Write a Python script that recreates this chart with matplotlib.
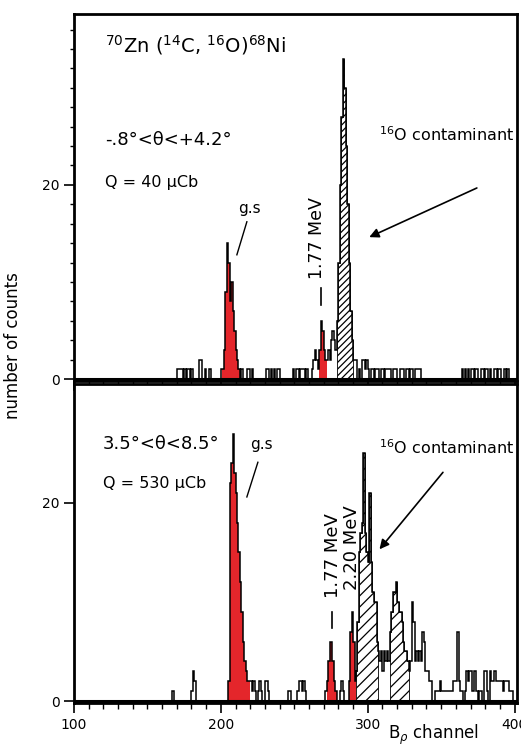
import numpy as np
import matplotlib
matplotlib.use("Agg")
import matplotlib.pyplot as plt
from matplotlib.ticker import MultipleLocator

# Spectre du haut : -0.8° < theta < 4.2°, Q = 40 uCb
top_ch = [170, 171, 172, 173, 175, 177, 178, 180, 185, 186, 189, 192,
          200, 201, 202, 203, 204, 205, 206, 207, 208, 209, 210, 211, 212,
          214, 218, 219, 221, 231, 232, 234, 236, 238, 239,
          249, 251, 252, 254, 255, 256, 258, 262, 263, 264, 265, 266,
          267, 268, 269, 270, 271, 272, 273, 274, 275, 276, 277, 278,
          279, 280, 281, 282, 283, 284, 285, 286, 287, 288, 289,
          290, 291, 292, 294, 296, 297, 298, 299, 300, 302, 303, 305, 306,
          307, 309, 310, 312, 313, 314, 315, 317, 318, 319, 322, 323, 324,
          326, 327, 329, 330, 332, 333, 334, 335,
          364, 366, 368, 370, 371, 373, 374, 377, 378, 380, 381, 383,
          386, 387, 389, 390, 393, 395]
top_n = [1, 1, 1, 1, 1, 1, 1, 1, 2, 2, 1, 1,
         1, 1, 3, 9, 14, 12, 8, 10, 7, 5, 3, 2, 1,
         1, 1, 1, 1, 1, 1, 1, 1, 1, 1,
         1, 1, 1, 1, 1, 1, 1, 1, 2, 3, 2, 1,
         3, 6, 5, 3, 2, 2, 3, 2, 4, 5, 4, 3,
         6, 12, 20, 27, 33, 30, 24, 18, 12, 7, 4,
         2, 2, 2, 1, 2, 2, 1, 2, 1, 1, 1, 1, 1,
         1, 1, 1, 1, 1, 1, 1, 1, 1, 1, 1, 1, 1,
         1, 1, 1, 1, 1, 1, 1, 1,
         1, 1, 1, 1, 1, 1, 1, 1, 1, 1, 1, 1,
         1, 1, 1, 1, 1, 1]
top_red = [(201, 212), (267, 271)]
top_hatch = [(279, 289)]

# Spectre du bas : 3.5° < theta < 8.5°, Q = 530 uCb
bot_ch = [167, 180, 181, 182,
          205, 206, 207, 208, 209, 210, 211, 212, 213, 214, 215, 216, 217,
          218, 219, 220, 221, 222, 223, 225, 226, 227, 230, 231, 232,
          246, 247, 252, 253, 254, 255, 256, 257,
          271, 272, 273, 274, 275, 276, 277, 278, 281, 282, 283,
          287, 288, 289, 290, 291, 292, 293, 294, 295, 296, 297, 298, 299,
          300, 301, 302, 303, 304, 305, 306, 307, 308, 309, 310, 311, 312,
          313, 314, 315, 316, 317, 318, 319, 320, 321, 322, 323, 324, 325,
          326, 327, 328, 329, 330, 331, 332, 333, 334, 335, 336, 337, 338,
          339, 340, 341, 342, 343, 346, 347, 348, 349, 350, 351, 352, 353,
          354, 355, 356, 357, 358, 359, 360, 361, 362, 363, 364, 366, 367,
          368, 369, 370, 371, 372, 373, 374, 376, 377, 379, 380, 381, 383,
          384, 385, 386, 387, 388, 389, 390, 391, 392, 393, 394, 395, 396,
          397, 398]
bot_n = [1, 1, 3, 2,
         2, 22, 24, 27, 23, 21, 18, 15, 12, 9, 6, 4, 3,
         2, 2, 2, 1, 2, 1, 1, 2, 1, 2, 2, 1,
         1, 1, 1, 2, 2, 1, 2, 1,
         1, 2, 4, 6, 6, 4, 2, 1, 1, 2, 1,
         2, 7, 9, 6, 2, 3, 8, 15, 17, 18, 25, 17, 15,
         14, 21, 14, 11, 10, 10, 6, 5, 4, 5, 3, 5, 4,
         5, 4, 7, 9, 11, 11, 12, 10, 9, 9, 8, 6, 5,
         5, 4, 3, 4, 10, 8, 4, 5, 4, 5, 4, 7, 6,
         3, 3, 3, 2, 2, 1, 1, 1, 2, 1, 1, 1, 1,
         1, 1, 1, 1, 2, 2, 2, 7, 2, 1, 1, 1, 3,
         2, 3, 3, 1, 3, 3, 1, 1, 1, 3, 3, 1, 3,
         2, 2, 3, 2, 2, 2, 2, 2, 1, 2, 2, 2, 1,
         1, 1]
bot_red = [(205, 219), (272, 278), (287, 291)]
bot_hatch = [(292, 306), (315, 327)]

RED = "#e4262b"
plt.rcParams["hatch.linewidth"] = 0.9

edges = np.arange(100, 402)


def spectrum(ch, n):
    counts = np.zeros(len(edges) - 1)
    for c, v in zip(ch, n):
        counts[c - 100] = v
    return counts


def draw_panel(ax, counts, red, hatch, hatch_style, ytop):
    chan = edges[:-1]
    for lo, hi in red:
        part = np.where((chan >= lo) & (chan <= hi), counts, 0)
        ax.stairs(part, edges, fill=True, color=RED, lw=0)
    for lo, hi in hatch:
        part = np.where((chan >= lo) & (chan <= hi), counts, 0)
        ax.stairs(part, edges, fill=True, facecolor="none", edgecolor="black",
                  hatch=hatch_style, lw=0.6)
    ax.stairs(counts, edges, color="black", lw=1.1)
    ax.axhline(0, color="black", lw=2.2)
    ax.set_xlim(100, 401.5)
    ax.set_ylim(-0.2, ytop)
    ax.set_yticks([0, 20])
    ax.xaxis.set_major_locator(MultipleLocator(100))
    ax.xaxis.set_minor_locator(MultipleLocator(10))
    ax.tick_params(axis="both", which="major", direction="out", length=7,
                   width=1.2, labelsize=10)
    ax.tick_params(axis="x", which="minor", direction="out", length=4, width=1)
    for s in ax.spines.values():
        s.set_linewidth(2)


fig = plt.figure(figsize=(5.21, 7.49), dpi=100)
ax1 = fig.add_axes([0.142, 0.4913, 0.850, 0.490])
ax2 = fig.add_axes([0.142, 0.0614, 0.850, 0.4259])

draw_panel(ax1, spectrum(top_ch, top_n), top_red, top_hatch, "/////", 37.6)
draw_panel(ax2, spectrum(bot_ch, bot_n), bot_red, bot_hatch, "///", 32.0)
ax1.set_xticklabels([])
ax1.yaxis.set_minor_locator(MultipleLocator(2))
ax1.tick_params(axis="y", which="minor", direction="out", length=3, width=1)

# annotations panneau du haut
ax1.text(121, 34.4, r"$^{70}$Zn ($^{14}$C, $^{16}$O)$^{68}$Ni", fontsize=14,
         va="center", ha="left")
ax1.text(121, 24.6, "-.8°<θ<+4.2°", fontsize=13, va="center")
ax1.text(121, 20.2, "Q = 40 μCb", fontsize=11.5, va="center")
ax1.text(399.5, 25.2, r"$^{16}$O contaminant", fontsize=11.5, va="center",
         ha="right")
ax1.annotate("", xy=(299.3, 14.5), xytext=(376, 19.8),
             arrowprops=dict(arrowstyle="-|>", color="black", lw=1.2,
                             mutation_scale=14))
ax1.text(219.7, 17.6, "g.s", fontsize=11, ha="center", va="center")
ax1.plot([217.7, 210.9], [16.2, 12.8], color="black", lw=1)
ax1.text(265.3, 14.5, "1.77 MeV", fontsize=12.5, rotation=90,
         ha="center", va="center")
ax1.plot([268, 268], [9.4, 7.6], color="black", lw=1.2)

# annotations panneau du bas
ax2.text(119.7, 25.9, "3.5°<θ<8.5°", fontsize=13, va="center")
ax2.text(119.7, 22.0, "Q = 530 μCb", fontsize=11.5, va="center")
ax2.text(227.9, 25.9, "g.s", fontsize=11, ha="center", va="center")
ax2.plot([225.2, 217.7], [24.1, 20.6], color="black", lw=1)
ax2.text(399.5, 25.6, r"$^{16}$O contaminant", fontsize=11.5, va="center",
         ha="right")
ax2.annotate("", xy=(306.8, 15.1), xytext=(352.4, 23.3),
             arrowprops=dict(arrowstyle="-|>", color="black", lw=1.2,
                             mutation_scale=14))
ax2.text(276.2, 14.7, "1.77 MeV", fontsize=13, rotation=90,
         ha="center", va="center")
ax2.text(289.1, 15.5, "2.20 MeV", fontsize=13, rotation=90,
         ha="center", va="center")
ax2.plot([275.5, 275.5], [9.0, 7.4], color="black", lw=1.2)

fig.text(0.025, 0.539, "number of counts", rotation=90, fontsize=12,
         va="center", ha="center")
fig.text(0.745, 0.019, r"B$_\rho$ channel", fontsize=12, va="center")

fig.savefig("out.png", dpi=100, facecolor="white")
